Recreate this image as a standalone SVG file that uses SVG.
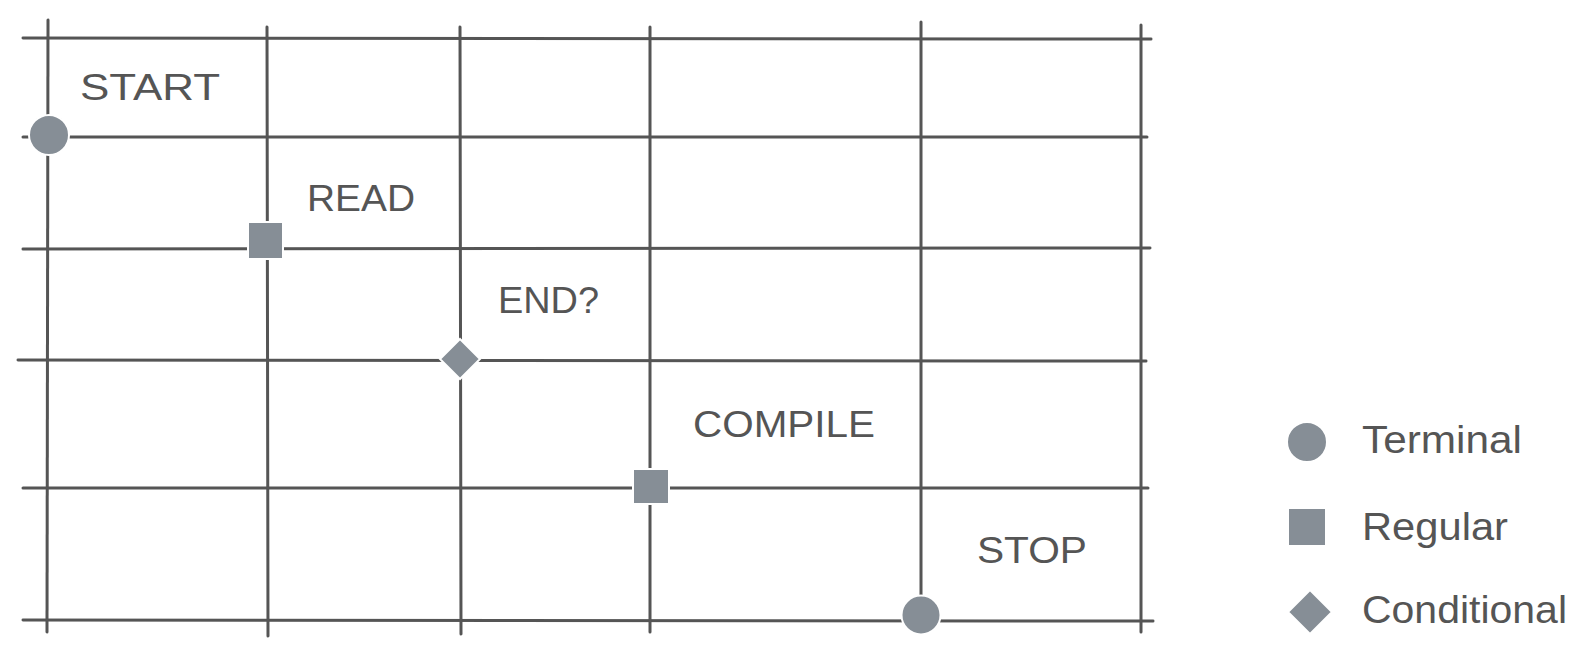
<svg xmlns="http://www.w3.org/2000/svg" width="1595" height="665" viewBox="0 0 1595 665">
<style>
.grid line{stroke:#555;stroke-width:3;stroke-linecap:round}
.node{fill:#868e96;stroke:#fff;stroke-width:2}
.lbl{font-family:"Liberation Sans","DejaVu Sans",sans-serif;font-size:36px;fill:#555;}
.leg{font-family:"Liberation Sans","DejaVu Sans",sans-serif;font-size:38px;fill:#555;}
</style>
<rect width="1595" height="665" fill="#fff"/>
<g id="connectors" class="grid">
<line x1="23" y1="38" x2="1151" y2="39"/>
<line x1="23" y1="137" x2="1147" y2="137"/>
<line x1="23" y1="249" x2="1150" y2="248"/>
<line x1="18" y1="360" x2="1146" y2="361"/>
<line x1="23" y1="488" x2="1148" y2="488"/>
<line x1="23" y1="620" x2="1153" y2="621"/>
<line x1="48" y1="20" x2="47" y2="632"/>
<line x1="267" y1="27" x2="268" y2="636"/>
<line x1="460" y1="27" x2="461" y2="634"/>
<line x1="650" y1="27" x2="650" y2="632"/>
<line x1="921" y1="22" x2="921" y2="600"/>
<line x1="1141" y1="25" x2="1141" y2="632"/>
</g>
<g id="start"><circle class="node" cx="49" cy="135" r="20"/><text class="lbl" x="80" y="100" textLength="140" lengthAdjust="spacingAndGlyphs">START</text></g>
<g id="read"><rect class="node" x="248" y="222" width="35" height="37"/><text class="lbl" x="307" y="211" textLength="108" lengthAdjust="spacingAndGlyphs">READ</text></g>
<g id="end"><polygon class="node" points="460,339 480,359 460,379 440,359"/><text class="lbl" x="498" y="313" textLength="101" lengthAdjust="spacingAndGlyphs">END?</text></g>
<g id="compile"><rect class="node" x="633" y="469" width="36" height="35"/><text class="lbl" x="693" y="437" textLength="182" lengthAdjust="spacingAndGlyphs">COMPILE</text></g>
<g id="stop"><circle class="node" cx="921" cy="615" r="19.5"/><text class="lbl" x="977" y="563" textLength="110" lengthAdjust="spacingAndGlyphs">STOP</text></g>
<g id="legend">
<circle class="node" cx="1307" cy="442" r="20"/>
<text class="leg" x="1362" y="453" textLength="160" lengthAdjust="spacingAndGlyphs">Terminal</text>
<rect class="node" x="1288" y="508" width="38" height="38"/>
<text class="leg" x="1362" y="540" textLength="146" lengthAdjust="spacingAndGlyphs">Regular</text>
<polygon class="node" points="1310,590 1332,612 1310,634 1288,612"/>
<text class="leg" x="1362" y="623" textLength="205" lengthAdjust="spacingAndGlyphs">Conditional</text>
</g>
</svg>
